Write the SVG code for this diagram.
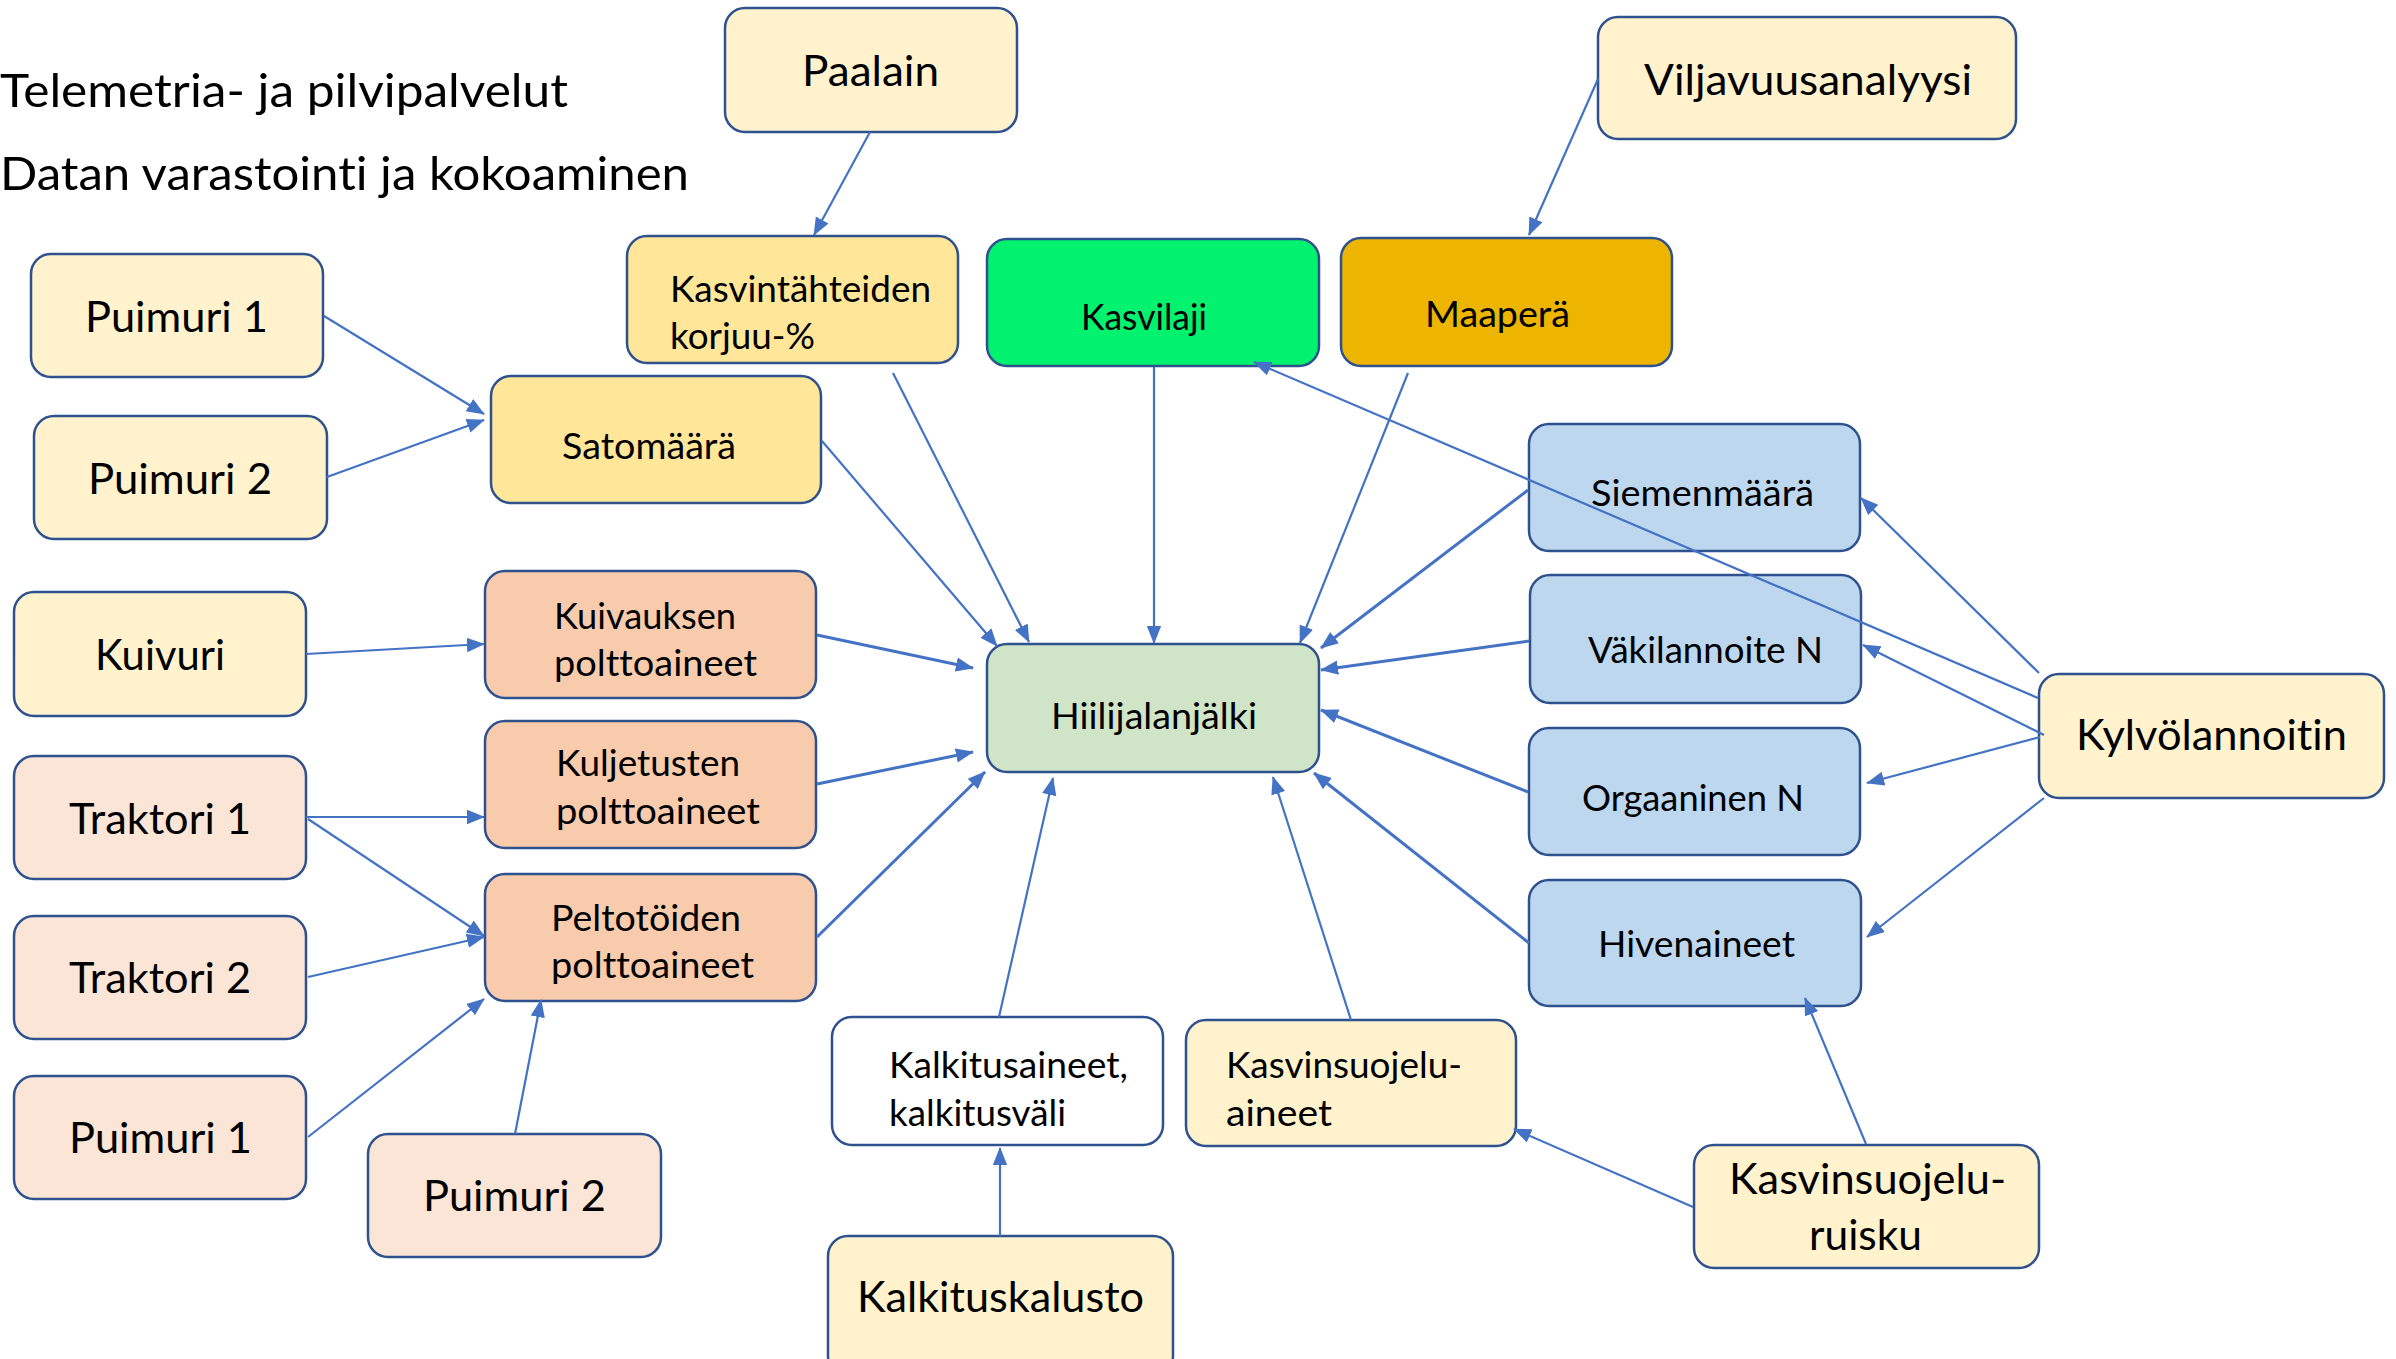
<svg xmlns="http://www.w3.org/2000/svg" width="2396" height="1359" viewBox="0 0 2396 1359">
<defs>
<marker id="ah" viewBox="0 0 10 10" refX="9.5" refY="5" markerWidth="18" markerHeight="18" markerUnits="userSpaceOnUse" orient="auto">
<path d="M0,1 L10,5 L0,9 z" fill="#4472C4"/>
</marker>
<style>
.n rect{stroke:#2F528F;stroke-width:2.5}
.y rect{fill:#FFF2CC}
.g rect{fill:#FFE699}
.b rect{fill:#BDD7EE}
.p rect{fill:#F8CBAD}
.lp rect{fill:#FBE5D6}
text{font-family:Lato,"Liberation Sans",sans-serif;fill:#000;font-variant-ligatures:none;font-feature-settings:"liga" 0,"clig" 0,"dlig" 0}
.L{font-size:42.5px}
.M{font-size:36px}
.T{font-size:47px}
#edges line{stroke:#4472C4;stroke-width:2.2;marker-end:url(#ah)}
#edges line.k{stroke-width:3}
</style>
</defs>
<rect width="2396" height="1359" fill="#fff"/>

<text class="T" x="0" y="107" textLength="568" lengthAdjust="spacingAndGlyphs">Telemetria- ja pilvipalvelut</text>
<text class="T" x="0" y="190" textLength="689" lengthAdjust="spacingAndGlyphs">Datan varastointi ja kokoaminen</text>

<g id="paalain" class="n y"><rect x="725" y="8" width="292" height="124" rx="20"/><text class="L" x="802" y="86" textLength="137" lengthAdjust="spacingAndGlyphs">Paalain</text></g>
<g id="viljavuus" class="n y"><rect x="1598" y="17" width="418" height="122" rx="20"/><text class="L" x="1644" y="95" textLength="328" lengthAdjust="spacingAndGlyphs">Viljavuusanalyysi</text></g>
<g id="kasvintahteet" class="n g"><rect x="627" y="236" width="331" height="127" rx="20"/><text class="M" x="670" y="302" textLength="261" lengthAdjust="spacingAndGlyphs">Kasvintähteiden</text><text class="M" x="670" y="349" textLength="145" lengthAdjust="spacingAndGlyphs">korjuu-%</text></g>
<g id="kasvilaji" class="n"><rect x="987" y="239" width="332" height="127" rx="20" fill="#00F26E"/><text class="M" x="1081" y="330" textLength="126" lengthAdjust="spacingAndGlyphs">Kasvilaji</text></g>
<g id="maapera" class="n"><rect x="1341" y="238" width="331" height="128" rx="20" fill="#EDB500"/><text class="M" x="1425" y="327" textLength="145" lengthAdjust="spacingAndGlyphs">Maaperä</text></g>
<g id="puimuri1a" class="n y"><rect x="31" y="254" width="292" height="123" rx="20"/><text class="L" x="85" y="332" textLength="183" lengthAdjust="spacingAndGlyphs">Puimuri 1</text></g>
<g id="puimuri2a" class="n y"><rect x="34" y="416" width="293" height="123" rx="20"/><text class="L" x="88" y="494" textLength="184" lengthAdjust="spacingAndGlyphs">Puimuri 2</text></g>
<g id="satomaara" class="n g"><rect x="491" y="376" width="330" height="127" rx="20"/><text class="M" x="562" y="459" textLength="174" lengthAdjust="spacingAndGlyphs">Satomäärä</text></g>
<g id="siemenmaara" class="n b"><rect x="1529" y="424" width="331" height="127" rx="20"/><text class="M" x="1591" y="506" textLength="223" lengthAdjust="spacingAndGlyphs">Siemenmäärä</text></g>
<g id="kuivuri" class="n y"><rect x="14" y="592" width="292" height="124" rx="20"/><text class="L" x="95" y="670" textLength="130" lengthAdjust="spacingAndGlyphs">Kuivuri</text></g>
<g id="kuivaus" class="n p"><rect x="485" y="571" width="331" height="127" rx="20"/><text class="M" x="554" y="629" textLength="182" lengthAdjust="spacingAndGlyphs">Kuivauksen</text><text class="M" x="554" y="676" textLength="203" lengthAdjust="spacingAndGlyphs">polttoaineet</text></g>
<g id="vakilannoite" class="n b"><rect x="1530" y="575" width="331" height="128" rx="20"/><text class="M" x="1588" y="663" textLength="235" lengthAdjust="spacingAndGlyphs">Väkilannoite N</text></g>
<g id="hiilijalanjalki" class="n"><rect x="987" y="644" width="332" height="128" rx="20" fill="#D0E4C7"/><text class="M" x="1051" y="729" textLength="206" lengthAdjust="spacingAndGlyphs">Hiilijalanjälki</text></g>
<g id="kylvolannoitin" class="n y"><rect x="2039" y="674" width="345" height="124" rx="20"/><text class="L" x="2076" y="750" textLength="271" lengthAdjust="spacingAndGlyphs">Kylvölannoitin</text></g>
<g id="traktori1" class="n lp"><rect x="14" y="756" width="292" height="123" rx="20"/><text class="L" x="69" y="834" textLength="182" lengthAdjust="spacingAndGlyphs">Traktori 1</text></g>
<g id="kuljetus" class="n p"><rect x="485" y="721" width="331" height="127" rx="20"/><text class="M" x="556" y="776" textLength="184" lengthAdjust="spacingAndGlyphs">Kuljetusten</text><text class="M" x="556" y="824" textLength="204" lengthAdjust="spacingAndGlyphs">polttoaineet</text></g>
<g id="orgaaninen" class="n b"><rect x="1529" y="728" width="331" height="127" rx="20"/><text class="M" x="1582" y="811" textLength="222" lengthAdjust="spacingAndGlyphs">Orgaaninen N</text></g>
<g id="traktori2" class="n lp"><rect x="14" y="916" width="292" height="123" rx="20"/><text class="L" x="69" y="993" textLength="182" lengthAdjust="spacingAndGlyphs">Traktori 2</text></g>
<g id="peltotyot" class="n p"><rect x="485" y="874" width="331" height="127" rx="20"/><text class="M" x="551" y="931" textLength="190" lengthAdjust="spacingAndGlyphs">Peltotöiden</text><text class="M" x="551" y="978" textLength="203" lengthAdjust="spacingAndGlyphs">polttoaineet</text></g>
<g id="hivenaineet" class="n b"><rect x="1529" y="880" width="332" height="126" rx="20"/><text class="M" x="1598" y="957" textLength="197" lengthAdjust="spacingAndGlyphs">Hivenaineet</text></g>
<g id="kalkitusaineet" class="n"><rect x="832" y="1017" width="331" height="128" rx="20" fill="#fff"/><text class="M" x="889" y="1078" textLength="239" lengthAdjust="spacingAndGlyphs">Kalkitusaineet,</text><text class="M" x="889" y="1126" textLength="177" lengthAdjust="spacingAndGlyphs">kalkitusväli</text></g>
<g id="kasvinsuojeluaineet" class="n y"><rect x="1186" y="1020" width="330" height="126" rx="20"/><text class="M" x="1226" y="1078" textLength="236" lengthAdjust="spacingAndGlyphs">Kasvinsuojelu-</text><text class="M" x="1226" y="1126" textLength="106" lengthAdjust="spacingAndGlyphs">aineet</text></g>
<g id="puimuri1b" class="n lp"><rect x="14" y="1076" width="292" height="123" rx="20"/><text class="L" x="69" y="1153" textLength="183" lengthAdjust="spacingAndGlyphs">Puimuri 1</text></g>
<g id="puimuri2b" class="n lp"><rect x="368" y="1134" width="293" height="123" rx="20"/><text class="L" x="423" y="1211" textLength="183" lengthAdjust="spacingAndGlyphs">Puimuri 2</text></g>
<g id="ruisku" class="n y"><rect x="1694" y="1145" width="345" height="123" rx="20"/><text class="L" x="1729" y="1194" textLength="277" lengthAdjust="spacingAndGlyphs">Kasvinsuojelu-</text><text class="L" x="1809" y="1250" textLength="113" lengthAdjust="spacingAndGlyphs">ruisku</text></g>
<g id="kalkituskalusto" class="n y"><rect x="828" y="1236" width="345" height="140" rx="20"/><text class="L" x="857" y="1312" textLength="287" lengthAdjust="spacingAndGlyphs">Kalkituskalusto</text></g>

<g id="edges">
<line x1="870" y1="132" x2="814" y2="235"/>
<line x1="1598" y1="79" x2="1529" y2="235"/>
<line x1="324" y1="316" x2="484" y2="414"/>
<line x1="327" y1="477" x2="484" y2="420"/>
<line x1="306" y1="654" x2="484" y2="644"/>
<line x1="306" y1="817" x2="484" y2="817"/>
<line x1="308" y1="819" x2="484" y2="936"/>
<line x1="308" y1="977" x2="484" y2="937"/>
<line x1="308" y1="1137" x2="484" y2="999"/>
<line x1="515" y1="1134" x2="541" y2="1000"/>
<line x1="893" y1="373" x2="1029" y2="642"/>
<line x1="822" y1="441" x2="997" y2="646"/>
<line x1="1154" y1="367" x2="1154" y2="643"/>
<line x1="1408" y1="373" x2="1300" y2="643"/>
<line class="k" x1="1528" y1="490" x2="1321" y2="648"/>
<line class="k" x1="1529" y1="641" x2="1321" y2="670"/>
<line class="k" x1="1528" y1="792" x2="1321" y2="710"/>
<line class="k" x1="1529" y1="943" x2="1314" y2="773"/>
<line x1="1351" y1="1020" x2="1273" y2="777"/>
<line x1="999" y1="1017" x2="1053" y2="778"/>
<line class="k" x1="817" y1="937" x2="985" y2="772"/>
<line class="k" x1="817" y1="784" x2="973" y2="752"/>
<line class="k" x1="817" y1="635" x2="973" y2="668"/>
<line x1="2038" y1="698" x2="1254" y2="362"/>
<line x1="2039" y1="673" x2="1861" y2="498"/>
<line x1="2044" y1="735" x2="1863" y2="645"/>
<line x1="2040" y1="737" x2="1867" y2="783"/>
<line x1="2044" y1="798" x2="1867" y2="937"/>
<line x1="1866" y1="1144" x2="1805" y2="998"/>
<line x1="1693" y1="1207" x2="1514" y2="1129"/>
<line x1="1000" y1="1236" x2="1000" y2="1148"/>
</g>
</svg>
